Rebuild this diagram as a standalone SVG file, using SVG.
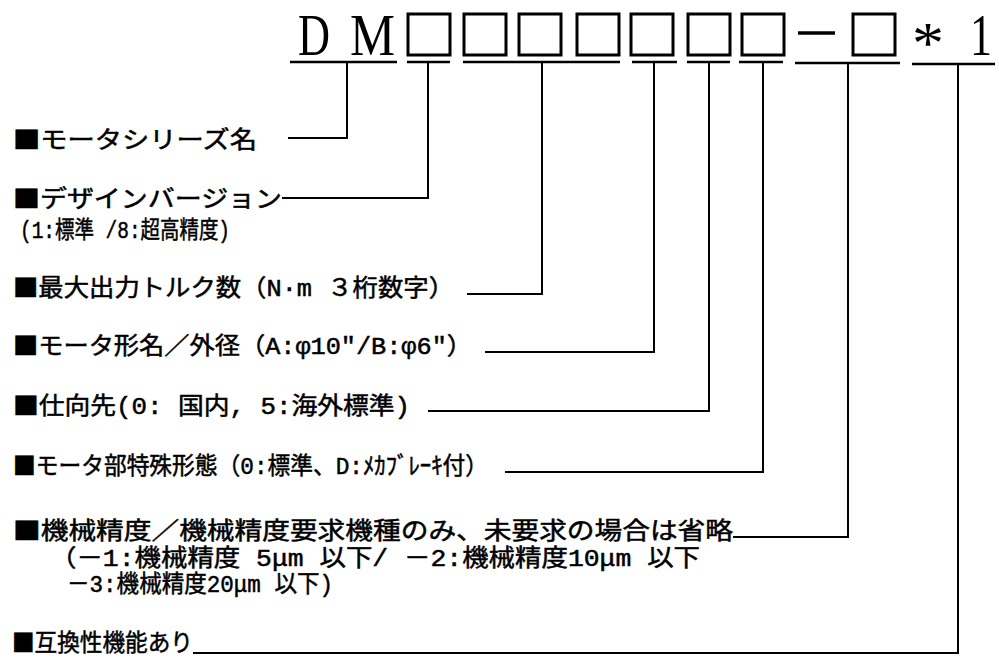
<svg xmlns="http://www.w3.org/2000/svg" width="999" height="666" viewBox="0 0 999 666">
<style>
.t{font-family:"Liberation Mono","Noto Sans CJK JP","Noto Sans CJK SC",monospace;font-size:24px;fill:#000;stroke:#000;stroke-width:0.5}
.k{font-family:"Noto Sans CJK JP","Noto Sans CJK SC",sans-serif}
.ser{font-family:"Liberation Serif",serif;font-size:60px;fill:#000}
.box{fill:none;stroke:#000;stroke-width:3}
.ul{stroke:#000;stroke-width:2.5;fill:none}
.ln{stroke:#000;stroke-width:2;fill:none}
</style>
<rect width="999" height="666" fill="#fff"/>
<g id="code">
<text class="ser" x="298" y="55" textLength="32" lengthAdjust="spacingAndGlyphs">D</text>
<text class="ser" x="350" y="55" textLength="45" lengthAdjust="spacingAndGlyphs">M</text>
<rect class="box" x="408" y="14" width="42" height="41"/>
<rect class="box" x="464" y="14" width="42" height="41"/>
<rect class="box" x="519" y="14" width="42" height="41"/>
<rect class="box" x="577" y="14" width="42" height="41"/>
<rect class="box" x="631" y="14" width="42" height="41"/>
<rect class="box" x="688" y="14" width="42" height="41"/>
<rect class="box" x="742" y="14" width="42" height="41"/>
<line x1="798" y1="33" x2="835" y2="33" stroke="#000" stroke-width="3.5"/>
<rect class="box" x="853" y="14" width="42" height="41"/>
<text class="ser" x="912" y="63" textLength="32" lengthAdjust="spacingAndGlyphs">*</text>
<text class="ser" x="970" y="55" textLength="22" lengthAdjust="spacingAndGlyphs">1</text>
</g>
<g id="underlines">
<line class="ul" x1="290" y1="62" x2="397" y2="62"/>
<line class="ul" x1="407" y1="62" x2="450" y2="62"/>
<line class="ul" x1="463" y1="62" x2="620" y2="62"/>
<line class="ul" x1="632" y1="62" x2="677" y2="62"/>
<line class="ul" x1="687" y1="62" x2="730" y2="62"/>
<line class="ul" x1="739" y1="62" x2="783" y2="62"/>
<line class="ul" x1="795" y1="63" x2="900" y2="63"/>
<line class="ul" x1="912" y1="64" x2="995" y2="64"/>
</g>
<g id="n1"><text class="t" x="13" y="148" textLength="244" lengthAdjust="spacingAndGlyphs"><tspan class="k">■モータシリーズ名</tspan></text></g>
<g id="n2"><text class="t" x="13" y="207" textLength="269" lengthAdjust="spacingAndGlyphs"><tspan class="k">■デザインバージョン</tspan></text>
<text class="t" x="20" y="238" textLength="210" lengthAdjust="spacingAndGlyphs">(1:標準 /8:超高精度)</text></g>
<g id="n3"><text class="t" x="13" y="296" textLength="441" lengthAdjust="spacingAndGlyphs"><tspan class="k">■</tspan>最大出力トルク数（N·m ３桁数字）</text></g>
<g id="n4"><text class="t" x="13" y="354" textLength="459" lengthAdjust="spacingAndGlyphs"><tspan class="k">■</tspan>モータ形名／外径（A:φ10″/B:φ6″）</text></g>
<g id="n5"><text class="t" x="13" y="414" textLength="397" lengthAdjust="spacingAndGlyphs"><tspan class="k">■</tspan>仕向先(0: 国内, 5:海外標準)</text></g>
<g id="n6"><text class="t" x="13" y="474" textLength="475" lengthAdjust="spacingAndGlyphs"><tspan class="k">■</tspan>モータ部特殊形態（0:標準、D:ﾒｶﾌﾞﾚｰｷ付）</text></g>
<g id="n7"><text class="t" x="13" y="539" textLength="720" lengthAdjust="spacingAndGlyphs"><tspan class="k">■機械精度／機械精度要求機種のみ、未要求の場合は省略</tspan></text>
<text class="t" x="50" y="566" textLength="650" lengthAdjust="spacingAndGlyphs">（－1:機械精度 5μm 以下/ －2:機械精度10μm 以下</text>
<text class="t" x="67" y="592" textLength="266" lengthAdjust="spacingAndGlyphs">－3:機械精度20μm 以下)</text></g>
<g id="n8"><text class="t" x="12" y="651" textLength="181" lengthAdjust="spacingAndGlyphs"><tspan class="k">■互換性機能あり</tspan></text></g>
<g id="connectors">
<polyline class="ln" points="347,63 347,138 288,138"/>
<polyline class="ln" points="428,63 428,198 282,198"/>
<polyline class="ln" points="542,63 542,294 467,294"/>
<polyline class="ln" points="654,63 654,352 485,352"/>
<polyline class="ln" points="709,63 709,411 428,411"/>
<polyline class="ln" points="763,63 763,472 505,472"/>
<polyline class="ln" points="848,64 848,537 733,537"/>
<polyline class="ln" points="958,65 958,653 193,653"/>
</g>
</svg>
